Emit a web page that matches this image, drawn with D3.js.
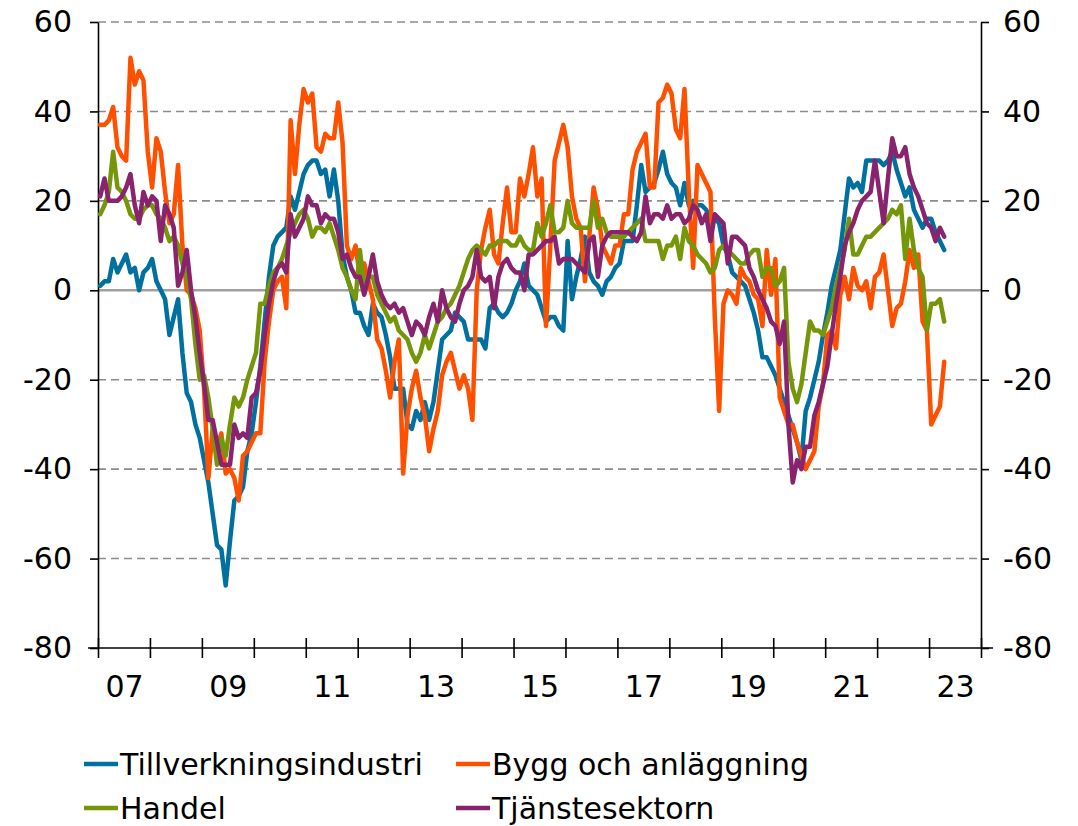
<!DOCTYPE html>
<html>
<head>
<meta charset="utf-8">
<script src="https://cdn.jsdelivr.net/npm/d3@7"></script>
<style>
  body { margin: 0; background: #fff; }
  text { font-family: "DejaVu Sans", Verdana, sans-serif; }
</style>
</head>
<body>
<div id="chart"></div>
<script>
// Chart size
const width = 1078;
const height = 826;

// Data: monthly values from Jan 2007 to Apr 2023
const startYear = 2007;
const endYear = 2024;
const labelYears = d3.range(2007, 2024, 2);
const yTicks = [-80, -60, -40, -20, 0, 20, 40, 60];

const seriesNames = ["Tillverkningsindustri", "Bygg och anläggning", "Handel", "Tjänstesektorn"];
const seriesColors = ["#0070a0", "#ff5000", "#76960a", "#89236e"];

const tillverkning = [
  1, 2, 2, 7, 4, 6, 8, 4, 5, 0, 4, 5,
  7, 2, 0, -2, -10, -6, -2, -14, -23, -25, -30, -33,
  -38, -43, -50, -57, -58, -66, -56, -47, -46, -44, -36, -32,
  -25, -17, -7, 3, 10, 12, 13, 14, 21, 18, 22, 26,
  28, 29, 29, 26, 27, 21, 27, 20, 8, 3, 0, -5,
  -5, -8, -10, -3, -5, -6, -10, -15, -22, -22, -22, -30,
  -31, -27, -29, -25, -29, -25, -18, -11, -10, -9, -5, -6,
  -7, -11, -11, -11, -11, -13, -4, -3, -5, -6, -5, -3,
  0, 2, 6, 1, 0, -1, -4, -7, -6, -6, -8, -9,
  11, -2, 3, 7, 12, 4, 2, 1, -1, 2, 3, 5,
  6, 11, 11, 11, 19, 28, 22, 23, 24, 27, 31, 26,
  24, 23, 19, 24, 19, 20, 19, 19, 18, 16, 16, 15,
  10, 8, 4, 3, 2, 1, -2, -5, -9, -15, -15, -17,
  -19, -22, -25, -28, -31, -34, -38, -27, -24, -20, -16, -10,
  -5, 1, 5, 9, 17, 25, 23, 24, 22, 29, 29, 29,
  29, 28, 29, 31, 27, 24, 21, 23, 18, 16, 14, 16,
  16, 13, 11, 9
];

const bygg = [
  37, 37, 38, 41, 32, 30, 29, 52, 46, 49, 47, 31,
  23, 34, 31, 22, 15, 17, 28, 10, 0, -1, -4, -9,
  -22, -42, -31, -35, -32, -41, -40, -42, -47, -37, -36, -34,
  -32, -32, -16, -7, 0, 2, 3, -4, 38, 26, 37, 45,
  42, 44, 32, 31, 35, 34, 34, 42, 33, 10, 7, 10,
  3, 6, 2, -2, -11, -13, -18, -24, -16, -11, -41, -28,
  -22, -18, -24, -28, -36, -31, -27, -19, -16, -14, -18, -22,
  -19, -22, -29, 0, 9, 14, 18, 8, 6, 15, 23, 13,
  13, 25, 21, 26, 32, 21, 25, -8, 10, 29, 33, 37,
  32, 21, 16, 14, 2, 12, 23, 18, 10, 8, 6, 10,
  10, 17, 17, 27, 31, 33, 35, 23, 23, 42, 43, 46,
  44, 36, 34, 45, 22, 5, 28, 26, 24, 22, -6, -27,
  -3, 0, -1, -3, 5, 3, 2, -1, -2, -8, 9, -1,
  7, -24, -27, -30, -30, -34, -37, -40, -38, -36, -26, -21,
  -10, -9, -13, -1, 3, -2, 5, 1, 0, 2, -4, 3,
  4, 8, 0, -8, -4, -3, 2, 9, 5, 8, -7, -9,
  -30, -28, -26, -16
];

const handel = [
  17, 19, 22, 31, 23, 22, 20, 17, 16, 16, 18, 19,
  19, 17, 16, 14, 11, 12, 10, 6, 3, -2, -12, -20,
  -19, -24, -31, -39, -33, -37, -30, -24, -26, -24, -20, -17,
  -14, -3, -3, 1, 4, 5, 7, 10, 13, 15, 17, 18,
  16, 12, 14, 14, 13, 15, 12, 9, 5, 3, 0, -2,
  9, 1, 3, 3, -1, -3, -5, -7, -6, -9, -10, -11,
  -14, -16, -14, -10, -13, -10, -7, -6, -4, -3, -1, 1,
  4, 7, 9, 10, 9, 8, 10, 10, 11, 11, 11, 10,
  10, 12, 10, 9, 9, 15, 12, 15, 19, 13, 13, 14,
  20, 15, 14, 14, 14, 14, 20, 14, 16, 13, 12, 12,
  12, 12, 13, 14, 15, 16, 11, 11, 11, 11, 7, 10,
  10, 12, 7, 14, 11, 10, 8, 7, 6, 4, 5, 9,
  10, 9, 8, 7, 6, 6, 8, 9, 9, 3, 5, 5,
  1, 2, 5, -16, -22, -25, -21, -14, -7, -9, -9, -10,
  -7, -4, 1, 5, 9, 16, 8, 8, 10, 12, 12, 13,
  14, 15, 16, 18, 17, 19, 7, 16, 9, 5, 3, -9,
  -3, -3, -2, -7
];

const tjanster = [
  21, 25, 20, 20, 20, 21, 23, 26, 19, 15, 22, 19,
  21, 20, 11, 19, 17, 14, 1, 4, 9, 0, -6, -14,
  -21, -29, -29, -34, -39, -39, -39, -30, -33, -32, -33, -24,
  -23, -18, -10, -3, 2, 5, 6, 4, 17, 12, 14, 16,
  21, 19, 19, 15, 17, 16, 16, 13, 7, 8, 5, 3,
  3, -1, 3, 8, 2, -1, -3, -4, -3, -5, -4, -7,
  -10, -7, -8, -10, -6, -3, -7, 0, -4, -6, -7, -3,
  0, 1, 3, 9, 3, 2, 3, -4, 3, 6, 7, 5,
  4, 4, 0, 8, 8, 9, 10, 11, 11, 12, 6, 7,
  7, 7, 6, 5, 4, 11, 12, 3, 10, 12, 13, 13,
  13, 13, 13, 12, 11, 13, 21, 15, 17, 17, 16, 19,
  16, 17, 17, 15, 16, 19, 18, 15, 17, 11, 17, 16,
  15, 6, 12, 12, 11, 10, 5, 3, 0, -2, -4, -7,
  -8, -12, -7, -30, -43, -38, -40, -35, -35, -28, -25, -21,
  -17, -10, -3, 3, 10, 13, 15, 18, 20, 21, 22, 29,
  22, 15, 25, 34, 30, 30, 32, 26, 23, 21, 18, 15,
  14, 11, 14, 12
];

const seriesValues = [tillverkning, bygg, handel, tjanster];
const months = d3.range(tillverkning.length).map(i => startYear + (i + 0.5) / 12);

// Scales
const x = d3.scaleLinear().domain([startYear, endYear]).range([98, 981]);
const y = d3.scaleLinear().domain([-80, 60]).range([648, 22]);

const svg = d3.select("#chart")
  .append("svg")
  .attr("width", width)
  .attr("height", height);

// Dashed gridlines
svg.append("g")
  .selectAll("line")
  .data(yTicks.filter(d => d !== 0 && d !== -80))
  .join("line")
  .attr("x1", x(startYear))
  .attr("x2", x(endYear))
  .attr("y1", d => y(d))
  .attr("y2", d => y(d))
  .attr("stroke", "#8c8c8c")
  .attr("stroke-width", 1.6)
  .attr("stroke-dasharray", "8,5");

// Zero line
svg.append("line")
  .attr("x1", x(startYear))
  .attr("x2", x(endYear))
  .attr("y1", y(0))
  .attr("y2", y(0))
  .attr("stroke", "#a0a0a0")
  .attr("stroke-width", 2.5);

// Plain hyphen for negatives, like the original
const numFormat = d => String(d);

// Left axis
svg.append("g")
  .attr("transform", `translate(${x(startYear)},0)`)
  .call(d3.axisLeft(y).tickValues(yTicks).tickSize(8).tickSizeOuter(0).tickPadding(18).tickFormat(numFormat));

// Right axis
svg.append("g")
  .attr("transform", `translate(${x(endYear)},0)`)
  .call(d3.axisRight(y).tickValues(yTicks).tickSize(8).tickSizeOuter(0).tickPadding(14).tickFormat(numFormat));

// Bottom axis: year ticks crossing the line
const bottomAxis = svg.append("g")
  .attr("transform", `translate(0,${y(-80)})`)
  .call(d3.axisBottom(x).tickValues(d3.range(startYear, endYear + 1)).tickSize(10).tickSizeOuter(0).tickFormat(""));
bottomAxis.selectAll(".tick line").attr("y1", -10);
bottomAxis.select(".domain").attr("d", `M${x(startYear) - 10},0H${x(endYear) + 12}`);

// Year labels centred in each year
svg.append("g")
  .attr("transform", `translate(0,${y(-80)})`)
  .call(d3.axisBottom(x).tickValues(labelYears.map(d => d + 0.5)).tickSize(0).tickPadding(28)
    .tickFormat(d => String(Math.floor(d) % 100).padStart(2, "0")))
  .call(g => g.select(".domain").remove());

svg.selectAll(".domain, .tick line")
  .attr("stroke", "#000")
  .attr("stroke-width", 1.6);
svg.selectAll(".tick text")
  .attr("font-size", 30)
  .attr("font-family", "DejaVu Sans, Verdana, sans-serif")
  .attr("fill", "#000");

// Series lines
const line = d3.line()
  .x((d, i) => x(months[i]))
  .y(d => y(d));

svg.append("g")
  .selectAll("path")
  .data(seriesValues)
  .join("path")
  .attr("fill", "none")
  .attr("stroke", (d, i) => seriesColors[i])
  .attr("stroke-width", 4.5)
  .attr("stroke-linejoin", "round")
  .attr("stroke-linecap", "round")
  .attr("d", line);

// Legend, two columns
const legendX = [84, 456];
const legendY = [764, 808];
const legend = svg.append("g")
  .selectAll("g")
  .data(seriesNames)
  .join("g")
  .attr("transform", (d, i) => `translate(${legendX[i % 2]},${legendY[Math.floor(i / 2)]})`);

legend.append("line")
  .attr("x1", 0)
  .attr("x2", 34)
  .attr("stroke", (d, i) => seriesColors[i])
  .attr("stroke-width", 4.5);

legend.append("text")
  .attr("x", 36)
  .attr("y", 11)
  .attr("font-size", 30)
  .attr("fill", "#000")
  .text(d => d);
</script>
</body>
</html>
